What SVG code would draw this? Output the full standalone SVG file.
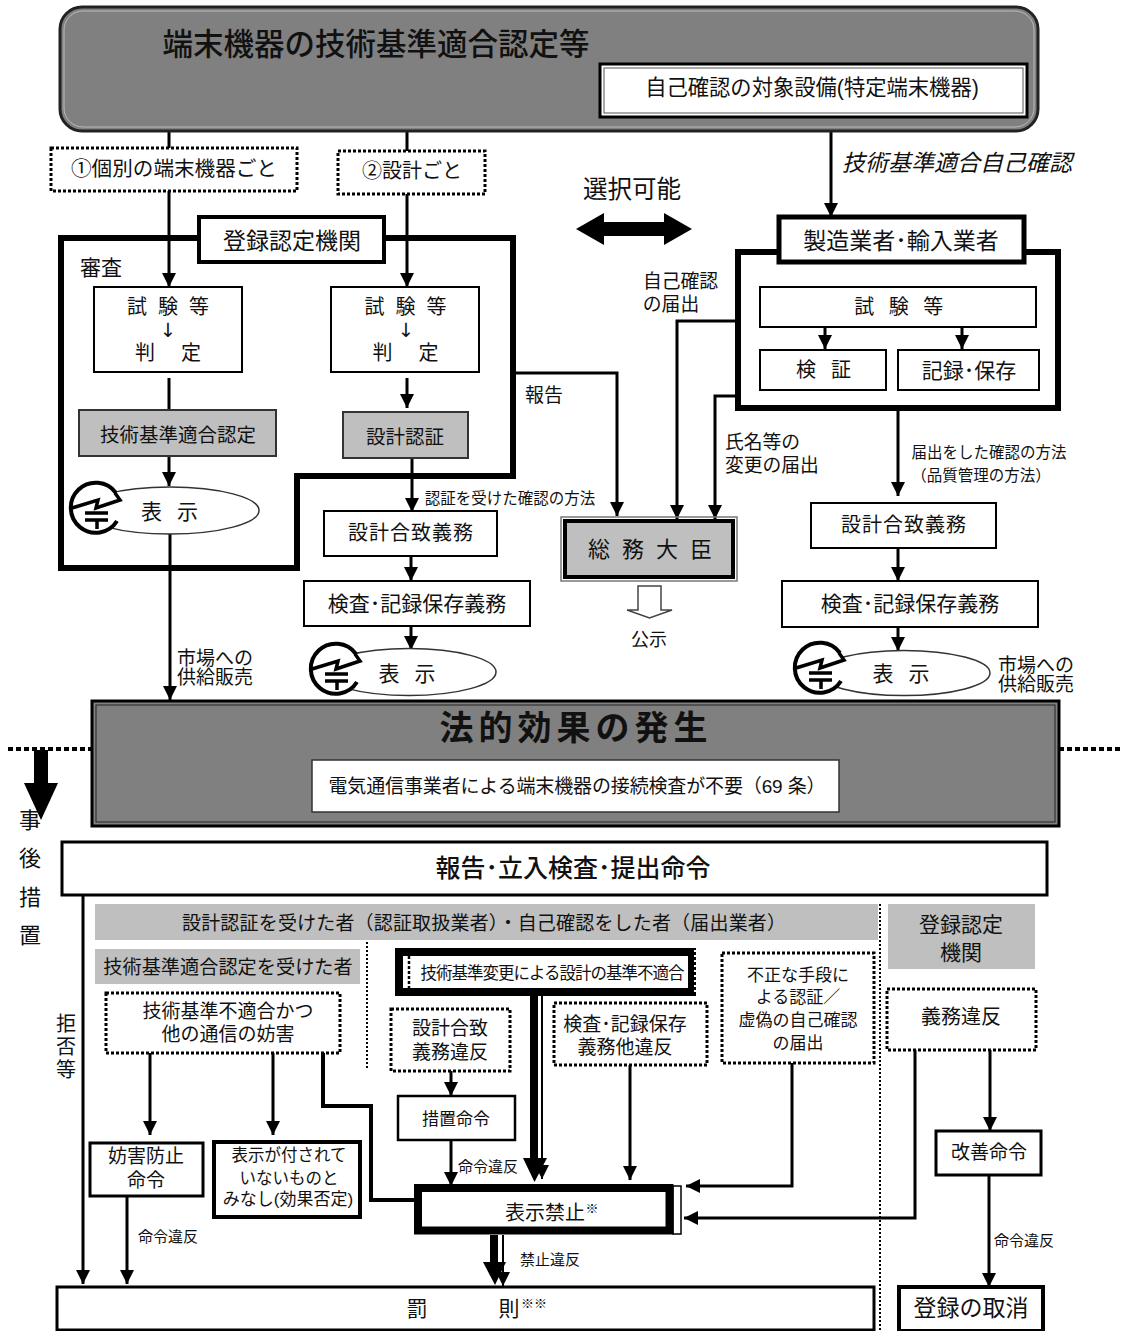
<svg xmlns="http://www.w3.org/2000/svg" width="1121" height="1331" viewBox="0 0 1121 1331">
<style>
text{font-family:"Liberation Sans","Noto Sans CJK JP","Noto Sans CJK SC",sans-serif;fill:#111;text-anchor:middle;dominant-baseline:central;font-size:19px}
.l{text-anchor:start}
.b{fill:#fff;stroke:#000;stroke-width:2}
.g{fill:#bfbfbf;stroke:#333;stroke-width:2}
.band{fill:#bfbfbf;stroke:none}
.d{fill:#fff;stroke:#000;stroke-width:3;stroke-dasharray:3 2}
.c{fill:none;stroke:#000;stroke-width:3;marker-end:url(#a)}
.n{fill:none;stroke:#000;stroke-width:3}
.t{fill:none;stroke:#000;stroke-width:2;marker-end:url(#a)}
.s{font-size:15px}
.ar{font-family:"DejaVu Sans",sans-serif;font-size:19.500px}
</style>
<defs>
<marker id="a" markerUnits="userSpaceOnUse" markerWidth="16" markerHeight="16" refX="14" refY="8" orient="auto"><path d="M0 1L14 8L0 15Z" fill="#000"/></marker>
<g id="mark">
<circle r="25" fill="#fff"/>
<path d="M21 -15A25 25 0 1 0 22 13" fill="none" stroke="#000" stroke-width="4"/>
<path d="M-23 0L3 -8L1 0L25 -8L20 -15" fill="none" stroke="#000" stroke-width="3.500"/>
<path d="M-10 5H13M-10 12H13M2 12V21" fill="none" stroke="#000" stroke-width="3.500"/>
</g>
</defs>
<rect width="1121" height="1331" fill="#fff"/>

<g id="connectors">
<path class="n" d="M169 131V148M407 131V151"/>
<path class="c" d="M831 117V217"/>
<path class="c" d="M169 191V287"/>
<path class="c" d="M407 194V287"/>
<path class="n" d="M169 378V410"/>
<path class="c" d="M407 378V408"/>
<path class="c" d="M169 456V486"/>
<path class="c" d="M412 458V512"/>
<path class="c" d="M170 533V700"/>
<path class="c" d="M513 373H617V516"/>
<path class="c" d="M411 556V581"/>
<path class="c" d="M411 626V650"/>
<path class="c" d="M738 321H677V519"/>
<path class="c" d="M738 396H715V519"/>
<path class="c" d="M825 327V349"/>
<path class="c" d="M962 327V349"/>
<path class="c" d="M898 408V496"/>
<path class="c" d="M898 548V581"/>
<path class="c" d="M898 627V651"/>
<path class="c" d="M83 895V1284"/>
<path class="c" d="M127 1196V1284"/>
<path class="c" d="M150 1053V1135"/>
<path class="c" d="M273 1053V1135"/>
<path style="fill:none;stroke:#000;stroke-width:4" d="M323 1053V1106H371V1200H416"/>
<path class="c" d="M451 1071V1096"/>
<path class="c" d="M451 1140V1186"/>
<path class="t" d="M542 996V1179"/>
<path d="M530 996H538V1158H547L534.500 1182L523 1158H530Z" fill="#000"/>
<path class="c" d="M630 1065V1180"/>
<path class="c" d="M792 1063V1186H686"/>
<path class="c" d="M915 1050V1218H684"/>
<path class="c" d="M990 1050V1131"/>
<path class="c" d="M989 1175V1287"/>
<path class="t" d="M503 1235V1286"/>
<path d="M490 1235H498V1262H506L495 1285L483 1262H490Z" fill="#000"/>
<path d="M8 749H92M1059 749H1121" fill="none" stroke="#000" stroke-width="4" stroke-dasharray="5 3"/>
<path d="M34 750H48V783H58L41 820L24 783H34Z" fill="#000"/>
<path d="M576 229L604 213V222H664V213L692 229L664 245V236H604V245Z" fill="#000"/>
<path d="M638 586H661V610H672L649.500 618L627 610H638Z" fill="#fff" stroke="#444" stroke-width="1.500"/>
<path d="M367 938V1070M880 904V1331" fill="none" stroke="#000" stroke-width="2" stroke-dasharray="2 2"/>
</g>

<g id="top">
<rect x="60" y="7" width="978" height="124" rx="22" fill="#808080" stroke="#222" stroke-width="3"/>
<rect x="64" y="11" width="970" height="116" rx="19" fill="none" stroke="#bbb" stroke-width="1"/>
<text x="376" y="44" style="font-size:30.500px;font-weight:500">端末機器の技術基準適合認定等</text>
<rect x="600" y="64" width="427" height="53" fill="#fff" stroke="#000" stroke-width="3"/>
<rect x="604" y="68" width="419" height="45" fill="none" stroke="#555" stroke-width="1"/>
<text x="812" y="88" style="font-size:21.300px">自己確認の対象設備(特定端末機器)</text>
</g>
<g id="opt1"><rect class="d" x="51" y="148" width="246" height="43"/><text x="174" y="168" style="font-size:20.600px">①個別の端末機器ごと</text></g>
<g id="opt2"><rect class="d" x="338" y="151" width="147" height="43"/><text x="412" y="171" style="font-size:20px">②設計ごと</text></g>
<g id="selflabel"><text x="957" y="163" style="font-size:23px;font-style:italic">技術基準適合自己確認</text></g>
<g id="choice"><text x="632" y="189" style="font-size:24.500px">選択可能</text></g>

<g id="regbody">
<path d="M61 238H513V476H297V568H61Z" fill="none" stroke="#000" stroke-width="6"/>
<rect x="199" y="217" width="185" height="45" fill="#fff" stroke="#000" stroke-width="4"/>
<text x="292" y="241" style="font-size:23px">登録認定機関</text>
<text x="101" y="267" style="font-size:21px">審査</text>
</g>
<g id="test1"><rect class="b" x="94" y="287" width="148" height="85"/><text x="173.500" y="307" style="font-size:20px;letter-spacing:11px">試験等</text><text class="ar" x="168" y="330">↓</text><text x="181" y="353" style="font-size:20px;letter-spacing:26px">判定</text></g>
<g id="test2"><rect class="b" x="331" y="287" width="148" height="85"/><text x="411" y="307" style="font-size:20px;letter-spacing:11px">試験等</text><text class="ar" x="406" y="330">↓</text><text x="418.500" y="353" style="font-size:20px;letter-spacing:26px">判定</text></g>
<g id="cert1"><rect class="g" x="79" y="410" width="197" height="46"/><text x="178" y="435" style="font-size:19.500px">技術基準適合認定</text></g>
<g id="cert2"><rect class="g" x="343" y="412" width="125" height="46"/><text x="405" y="437" style="font-size:19.500px">設計認証</text></g>
<g id="mark1"><ellipse cx="170" cy="510.500" rx="89" ry="23.500" fill="#fff" stroke="#333" stroke-width="1.500"/><use href="#mark" x="95" y="508"/><text x="177" y="511" style="font-size:21px;letter-spacing:15px">表示</text></g>
<g id="market1"><text x="215" y="658" style="font-size:19px">市場への</text><text x="215" y="677" style="font-size:19px">供給販売</text></g>
<g id="report"><text x="544" y="395" style="font-size:19px">報告</text></g>
<g id="method1"><text x="510" y="498" style="font-size:15.500px">認証を受けた確認の方法</text></g>
<g id="conf1"><rect class="b" x="324" y="511" width="173" height="45"/><text x="411" y="533" style="font-size:20px;letter-spacing:1px">設計合致義務</text></g>
<g id="insp1"><rect class="b" x="304" y="581" width="226" height="45"/><text x="417" y="603" style="font-size:21px">検査･記録保存義務</text></g>
<g id="mark2"><ellipse cx="409" cy="672" rx="87" ry="23.500" fill="#fff" stroke="#333" stroke-width="1.500"/><use href="#mark" x="335" y="669"/><text x="414.500" y="673" style="font-size:21px;letter-spacing:15px">表示</text></g>

<g id="minister"><rect x="561" y="517" width="176" height="64" fill="none" stroke="#777" stroke-width="1.500"/><rect class="g" x="565" y="521" width="168" height="56" style="stroke:#000;stroke-width:4"/><text x="656" y="549" style="font-size:22px;letter-spacing:12px">総務大臣</text></g>
<g id="publish"><text x="649" y="640" style="font-size:18px">公示</text></g>

<g id="maker">
<rect x="738" y="252" width="320" height="156" fill="none" stroke="#000" stroke-width="6"/>
<rect x="779" y="217" width="245" height="45" fill="#fff" stroke="#000" stroke-width="5"/>
<text x="901" y="241" style="font-size:23px">製造業者･輸入業者</text>
</g>
<g id="test3"><rect class="b" x="760" y="287" width="276" height="40"/><text x="906" y="307" style="font-size:20px;letter-spacing:14.500px">試験等</text></g>
<g id="verify"><rect class="b" x="760" y="350" width="126" height="40"/><text x="831" y="370" style="font-size:20px;letter-spacing:15px">検証</text></g>
<g id="record"><rect class="b" x="898" y="350" width="141" height="40"/><text x="969" y="370" style="font-size:21px">記録･保存</text></g>
<g id="notice1"><text x="680.500" y="281" style="font-size:18.800px">自己確認</text><text x="671" y="304" style="font-size:18.800px">の届出</text></g>
<g id="notice2"><text class="l" x="725" y="442" style="font-size:18.800px">氏名等の</text><text class="l" x="725" y="465" style="font-size:18.800px">変更の届出</text></g>
<g id="method2"><text x="989" y="452" style="font-size:15.500px">届出をした確認の方法</text><text x="981" y="475" style="font-size:15.500px">（品質管理の方法）</text></g>
<g id="conf2"><rect class="b" x="811" y="503" width="185" height="45"/><text x="904" y="525" style="font-size:20px;letter-spacing:1px">設計合致義務</text></g>
<g id="insp2"><rect class="b" x="782" y="581" width="256" height="46"/><text x="910" y="603" style="font-size:21px">検査･記録保存義務</text></g>
<g id="mark3"><ellipse cx="904" cy="673" rx="86" ry="22.500" fill="#fff" stroke="#333" stroke-width="1.500"/><use href="#mark" x="819" y="668"/><text x="908.500" y="673" style="font-size:21px;letter-spacing:15px">表示</text></g>
<g id="market2"><text x="1036" y="665" style="font-size:19px">市場への</text><text x="1036" y="684" style="font-size:19px">供給販売</text></g>

<g id="effect">
<rect x="92" y="701" width="967" height="125" fill="#808080" stroke="#000" stroke-width="3"/>
<rect x="96" y="705" width="959" height="117" fill="none" stroke="#222" stroke-width="1"/>
<text x="576" y="728" style="font-size:34px;font-weight:700;letter-spacing:5px">法的効果の発生</text>
<rect x="312" y="760" width="527" height="52" fill="#fff" stroke="#333" stroke-width="1.500"/>
<text x="577" y="786" textLength="497" lengthAdjust="spacing" style="font-size:19px">電気通信事業者による端末機器の接続検査が不要（69 条）</text>
</g>
<g id="post"><text x="30" y="820" style="font-size:22px">事</text><text x="30" y="858" style="font-size:22px">後</text><text x="30" y="897" style="font-size:22px">措</text><text x="30" y="935" style="font-size:22px">置</text></g>
<g id="inspect"><rect x="62" y="842" width="985" height="53" fill="#fff" stroke="#000" stroke-width="3"/><text x="573" y="868" style="font-size:25px;font-weight:500">報告･立入検査･提出命令</text></g>
<g id="refuse"><text x="66" y="1024" style="font-size:20px">拒</text><text x="66" y="1047" style="font-size:20px">否</text><text x="66" y="1070" style="font-size:20px">等</text></g>
<g id="band1"><rect class="band" x="95" y="904" width="783" height="36"/><text x="484" y="923" textLength="604" lengthAdjust="spacing">設計認証を受けた者（認証取扱業者）・自己確認をした者（届出業者）</text></g>
<g id="band2"><rect class="band" x="95" y="949" width="265" height="35"/><text x="228" y="967" style="font-size:19.200px">技術基準適合認定を受けた者</text></g>
<g id="std"><rect x="399" y="952" width="293" height="40" fill="#fff" stroke="#000" stroke-width="8"/><path d="M409 956V988" stroke="#000" stroke-width="2.500" stroke-dasharray="3 2"/><path d="M695 950V994" stroke="#fff" stroke-width="2" stroke-dasharray="2 3"/><text x="552" y="973" style="font-size:16.500px;letter-spacing:-1px">技術基準変更による設計の基準不適合</text></g>
<g id="v1"><rect class="d" x="106" y="993" width="234" height="60"/><text x="228" y="1011">技術基準不適合かつ</text><text x="228" y="1034">他の通信の妨害</text></g>
<g id="v2"><rect class="d" x="391" y="1009" width="119" height="62"/><text x="450" y="1028">設計合致</text><text x="450" y="1052">義務違反</text></g>
<g id="v3"><rect class="d" x="554" y="1003" width="153" height="62"/><text x="625" y="1024">検査･記録保存</text><text x="625" y="1047">義務他違反</text></g>
<g id="v4"><rect class="d" x="722" y="953" width="152" height="110"/><text x="798" y="975" style="font-size:17px">不正な手段に</text><text x="798" y="997" style="font-size:17px">よる認証／</text><text x="798" y="1020" style="font-size:17px">虚偽の自己確認</text><text x="798" y="1043" style="font-size:17px">の届出</text></g>
<g id="band3"><rect class="band" x="888" y="904" width="147" height="65"/><text x="961" y="924" style="font-size:21px">登録認定</text><text x="961" y="952" style="font-size:21px">機関</text></g>
<g id="v5"><rect class="d" x="887" y="989" width="149" height="61"/><text x="961" y="1017" style="font-size:20px">義務違反</text></g>
<g id="o1"><rect class="b" x="90" y="1143" width="113" height="53" style="stroke-width:3"/><text x="146" y="1156">妨害防止</text><text x="146" y="1180">命令</text></g>
<g id="o2"><rect class="b" x="214" y="1142" width="146" height="75" style="stroke-width:4"/><text x="289" y="1155" style="font-size:16.500px">表示が付されて</text><text x="289" y="1178" style="font-size:16.500px">いないものと</text><text x="288" y="1199" style="font-size:17px">みなし(効果否定)</text></g>
<g id="o3"><rect class="b" x="398" y="1096" width="117" height="44" style="stroke-width:2.500"/><text x="456" y="1119" style="font-size:17px">措置命令</text></g>
<g id="o4"><rect class="b" x="936" y="1131" width="105" height="44" style="stroke-width:3"/><text x="989" y="1152">改善命令</text></g>
<g id="ban">
<rect x="673" y="1186" width="8" height="48" fill="#fff" stroke="#000" stroke-width="1.500"/>
<rect x="418" y="1188" width="251.500" height="42.500" fill="#fff" stroke="#000" stroke-width="8"/>
<text x="545" y="1213" style="font-size:20px">表示禁止</text><text x="592" y="1208" style="font-size:13px">※</text>
</g>
<g id="penalty"><rect class="b" x="57" y="1287" width="817" height="43" style="stroke-width:3"/><text x="417" y="1308" style="font-size:21px">罰</text><text x="509" y="1308" style="font-size:21px">則</text><text x="534" y="1303" style="font-size:13px">※※</text></g>
<g id="revoke"><rect class="b" x="899" y="1287" width="144" height="44" style="stroke-width:4"/><text x="971" y="1308" style="font-size:23px">登録の取消</text></g>
<g id="edgelabels"><text class="s" x="168" y="1236">命令違反</text><text class="s" x="488" y="1166">命令違反</text><text class="s" x="550" y="1259">禁止違反</text><text class="s" x="1024" y="1240">命令違反</text></g>
</svg>
